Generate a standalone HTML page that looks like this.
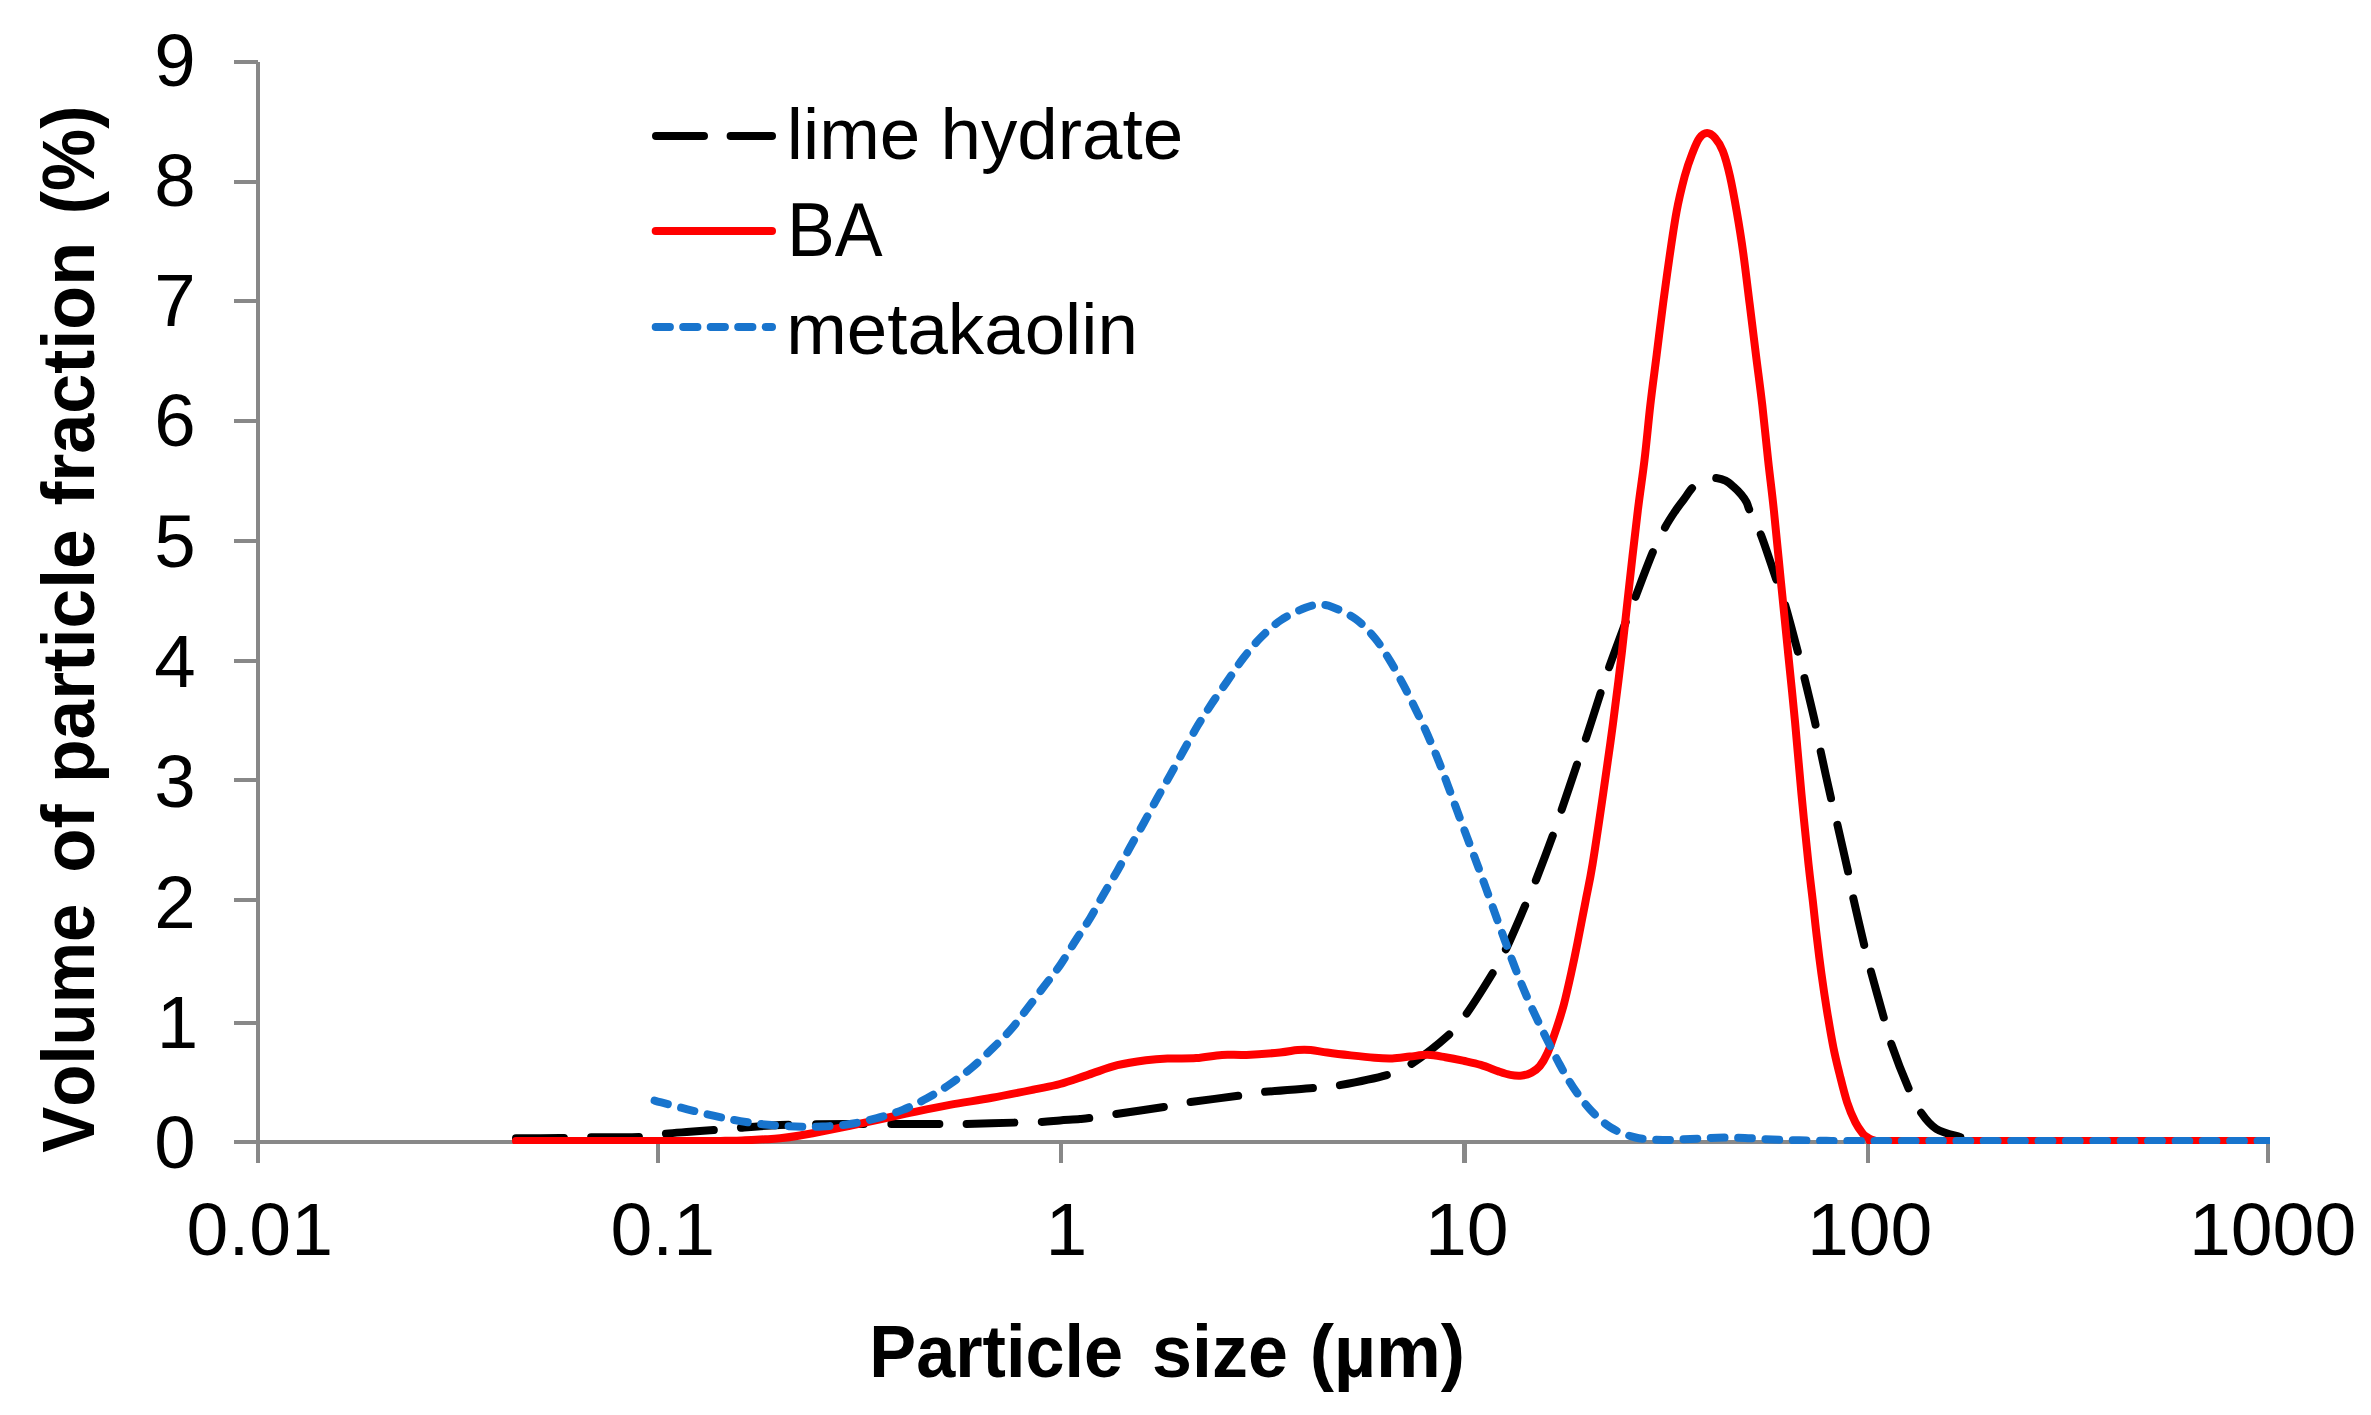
<!DOCTYPE html>
<html lang="en"><head><meta charset="utf-8"><title>Particle size distribution</title>
<style>html,body{margin:0;padding:0;background:#fff;width:2371px;height:1415px;overflow:hidden;}svg{display:block;}text{font-family:"Liberation Sans",sans-serif;fill:#000;font-kerning:none;white-space:pre;}.b{font-weight:bold;}</style></head><body>
<svg width="2371" height="1415" viewBox="0 0 2371 1415">
<rect width="2371" height="1415" fill="#fff"/>
<defs><clipPath id="plot"><rect x="240" y="40" width="2030" height="1104"/></clipPath></defs>
<g fill="#888888" shape-rendering="crispEdges">
<rect x="256" y="62" width="4" height="1101"/>
<rect x="256" y="1140" width="2014" height="4"/>
<rect x="234" y="60.0" width="24" height="4"/>
<rect x="234" y="180.0" width="24" height="4"/>
<rect x="234" y="299.0" width="24" height="4"/>
<rect x="234" y="419.0" width="24" height="4"/>
<rect x="234" y="539.0" width="24" height="4"/>
<rect x="234" y="658.5" width="24" height="4"/>
<rect x="234" y="778.0" width="24" height="4"/>
<rect x="234" y="897.5" width="24" height="4"/>
<rect x="234" y="1020.5" width="24" height="4"/>
<rect x="234" y="1140.0" width="24" height="4"/>
<rect x="656.0" y="1142" width="4" height="21"/>
<rect x="1059.0" y="1142" width="4" height="21"/>
<rect x="1462.0" y="1142" width="5" height="21"/>
<rect x="1866.0" y="1142" width="4" height="21"/>
<rect x="2266.0" y="1142" width="4" height="21"/>
</g>
<g clip-path="url(#plot)" fill="none" stroke-width="8" stroke-linecap="round" stroke-linejoin="round">
<path d="M516.0 1138.3C523.3 1138.2 547.7 1138.2 560.0 1138.0C572.3 1137.8 576.7 1137.4 590.0 1137.2C603.3 1137.0 628.0 1137.5 640.0 1137.0C652.0 1136.5 653.7 1134.9 662.0 1134.0C670.3 1133.1 680.7 1132.5 690.0 1131.8C699.3 1131.1 710.2 1130.2 718.0 1129.6C725.8 1129.0 726.7 1128.8 737.0 1128.0C747.3 1127.2 761.2 1125.8 780.0 1125.1C798.8 1124.4 822.9 1124.2 850.0 1124.0C877.1 1123.8 923.2 1124.0 942.6 1124.0C962.0 1124.0 954.5 1124.2 966.6 1124.0C978.7 1123.8 1002.9 1122.9 1015.4 1122.6C1027.9 1122.2 1034.2 1122.3 1041.6 1121.9C1049.0 1121.5 1053.6 1120.9 1060.0 1120.4C1066.4 1119.9 1074.6 1119.5 1080.0 1119.0C1085.4 1118.5 1086.7 1118.4 1092.3 1117.6C1097.9 1116.8 1101.3 1116.3 1113.8 1114.4C1126.3 1112.5 1155.0 1108.4 1167.3 1106.4C1179.6 1104.4 1175.2 1104.3 1187.6 1102.5C1199.9 1100.7 1228.9 1097.1 1241.4 1095.4C1253.9 1093.7 1250.2 1093.4 1262.6 1092.1C1275.0 1090.8 1303.6 1088.9 1316.0 1087.8C1328.4 1086.7 1325.0 1087.9 1337.0 1085.7C1349.0 1083.5 1375.6 1078.3 1388.0 1074.7C1400.4 1071.1 1401.0 1070.8 1411.2 1064.1C1421.5 1057.3 1440.3 1042.5 1449.5 1034.2C1458.7 1025.9 1459.2 1024.3 1466.4 1014.0C1473.7 1003.7 1486.4 983.4 1493.0 972.6C1499.6 961.8 1500.5 960.5 1505.9 949.3C1511.3 938.1 1520.2 917.0 1525.2 905.5C1530.2 894.0 1531.4 891.8 1536.0 880.0C1540.6 868.2 1548.7 846.8 1553.0 835.0C1557.3 823.2 1557.8 821.1 1561.8 809.3C1565.8 797.5 1573.0 776.2 1577.0 764.4C1581.0 752.6 1582.0 750.5 1585.9 738.6C1589.9 726.7 1596.8 704.8 1600.7 692.7C1604.6 680.6 1605.4 677.7 1609.5 666.1C1613.6 654.5 1621.0 634.8 1625.4 623.0C1629.8 611.2 1631.5 607.3 1636.0 595.5C1640.5 583.7 1647.9 563.7 1652.7 552.4C1657.5 541.1 1661.3 534.3 1665.0 527.5C1668.7 520.7 1671.9 516.0 1675.0 511.4C1678.1 506.8 1680.6 503.8 1683.5 499.8C1686.4 495.9 1689.6 490.8 1692.5 487.7C1695.4 484.6 1698.4 482.6 1701.0 481.0C1703.6 479.4 1705.5 478.7 1708.0 478.2C1710.5 477.7 1712.9 477.6 1715.8 478.0C1718.7 478.4 1722.6 479.3 1725.5 480.7C1728.4 482.1 1730.7 484.2 1733.3 486.5C1735.9 488.8 1738.9 491.7 1741.1 494.3C1743.3 496.9 1745.1 499.4 1746.5 502.1C1747.9 504.8 1747.2 504.8 1749.6 510.3C1752.0 515.8 1756.5 523.5 1761.0 535.0C1765.5 546.5 1772.2 567.8 1776.3 579.6C1780.4 591.5 1781.9 594.0 1785.5 606.1C1789.1 618.2 1794.7 639.9 1797.9 652.0C1801.1 664.1 1801.7 666.4 1804.6 678.5C1807.5 690.6 1812.8 712.2 1815.5 724.5C1818.2 736.8 1818.2 739.6 1820.8 752.0C1823.4 764.4 1828.3 786.5 1831.1 798.7C1833.9 810.9 1834.7 813.0 1837.5 825.2C1840.3 837.4 1845.4 859.5 1848.1 871.8C1850.8 884.0 1850.7 886.5 1853.4 898.7C1856.1 910.9 1861.3 932.8 1864.2 945.0C1867.1 957.2 1867.7 959.6 1871.0 971.7C1874.3 983.8 1880.4 1005.6 1883.8 1017.6C1887.2 1029.6 1887.1 1031.9 1891.2 1043.7C1895.3 1055.5 1903.6 1076.9 1908.6 1088.4C1913.6 1099.9 1916.6 1106.1 1921.2 1112.8C1925.8 1119.5 1929.7 1124.8 1936.2 1128.8C1942.7 1132.8 1954.0 1135.2 1960.0 1137.0C1966.0 1138.8 1967.8 1139.0 1972.0 1139.8C1976.2 1140.5 1980.3 1141.1 1985.0 1141.5C1989.7 1141.9 1949.2 1141.9 2000.0 1142.0C2050.8 1142.1 2241.7 1142.0 2290.0 1142.0" stroke="#000" stroke-dasharray="47.7 27.5"/>
<path d="M516.0 1141.0C530.0 1141.0 569.3 1141.0 600.0 1141.0C630.7 1141.0 679.2 1141.0 700.0 1141.0C720.8 1141.0 717.5 1140.9 725.0 1140.8C732.5 1140.7 738.3 1140.5 745.0 1140.3C751.7 1140.0 759.2 1139.6 765.0 1139.3C770.8 1139.0 774.2 1138.9 780.0 1138.3C785.8 1137.7 792.9 1136.7 800.0 1135.5C807.1 1134.3 811.6 1133.6 822.4 1131.4C833.2 1129.2 850.7 1125.6 864.8 1122.6C878.9 1119.6 893.1 1116.4 907.2 1113.4C921.4 1110.5 935.6 1107.5 949.7 1104.9C963.8 1102.3 977.9 1100.4 992.0 1097.8C1006.1 1095.2 1023.2 1091.7 1034.5 1089.4C1045.8 1087.1 1051.0 1086.5 1060.0 1084.0C1069.0 1081.5 1079.1 1077.7 1088.7 1074.6C1098.3 1071.5 1107.9 1067.6 1117.4 1065.2C1127.0 1062.8 1137.7 1061.3 1146.0 1060.2C1154.3 1059.1 1159.1 1058.8 1167.5 1058.5C1175.9 1058.2 1187.1 1058.7 1196.2 1058.1C1205.3 1057.5 1213.6 1055.4 1222.0 1054.9C1230.4 1054.4 1236.7 1055.3 1246.4 1054.9C1256.1 1054.5 1271.5 1053.3 1280.0 1052.5C1288.5 1051.7 1292.6 1050.5 1297.7 1050.1C1302.8 1049.7 1305.8 1049.7 1310.7 1050.1C1315.6 1050.5 1320.5 1051.6 1327.2 1052.5C1333.9 1053.4 1343.0 1054.5 1350.9 1055.4C1358.8 1056.3 1367.6 1057.3 1374.5 1057.8C1381.4 1058.3 1386.3 1058.6 1392.2 1058.4C1398.1 1058.2 1404.0 1057.2 1409.9 1056.6C1415.8 1056.0 1421.7 1054.7 1427.6 1054.8C1433.5 1054.9 1439.4 1056.2 1445.3 1057.2C1451.2 1058.2 1457.1 1059.4 1463.0 1060.7C1468.9 1062.0 1474.9 1063.1 1480.8 1064.9C1486.7 1066.7 1493.6 1069.7 1498.5 1071.4C1503.4 1073.1 1506.4 1074.2 1510.3 1074.9C1514.2 1075.6 1518.6 1075.9 1522.1 1075.5C1525.6 1075.1 1528.5 1074.2 1531.5 1072.6C1534.5 1071.0 1537.1 1069.4 1539.8 1066.1C1542.5 1062.8 1544.7 1059.2 1547.5 1053.0C1550.3 1046.8 1553.7 1036.7 1556.4 1028.7C1559.1 1020.7 1561.3 1014.0 1563.8 1004.8C1566.2 995.6 1568.8 983.9 1571.1 973.5C1573.4 963.1 1575.8 951.5 1577.6 942.3C1579.4 933.1 1580.8 925.4 1582.2 918.4C1583.6 911.4 1584.1 909.1 1585.8 900.0C1587.5 890.9 1589.7 881.8 1592.6 864.0C1595.5 846.2 1599.8 816.9 1603.2 793.4C1606.6 769.9 1610.0 746.3 1613.1 722.7C1616.2 699.1 1619.1 675.6 1621.9 652.0C1624.7 628.4 1627.1 604.8 1629.7 581.3C1632.3 557.8 1635.3 530.9 1637.8 510.7C1640.3 490.5 1642.4 477.6 1644.5 460.0C1646.6 442.4 1648.3 422.9 1650.3 405.3C1652.3 387.7 1654.6 371.4 1656.7 354.5C1658.8 337.6 1661.0 319.7 1663.1 303.6C1665.2 287.5 1667.2 273.1 1669.4 257.8C1671.6 242.5 1674.0 225.6 1676.5 212.0C1679.0 198.4 1682.1 186.1 1684.7 176.3C1687.3 166.5 1689.8 159.8 1692.3 153.4C1694.8 147.1 1696.9 141.6 1699.4 138.2C1701.9 134.8 1704.5 133.1 1707.1 133.1C1709.7 133.1 1712.6 135.2 1715.2 138.2C1717.8 141.2 1720.3 144.6 1722.8 150.9C1725.3 157.2 1727.7 166.1 1730.0 176.3C1732.3 186.5 1734.6 199.3 1736.8 212.0C1739.0 224.7 1741.1 237.4 1743.2 252.7C1745.3 268.0 1747.5 286.6 1749.6 303.6C1751.7 320.6 1753.8 337.6 1755.9 354.5C1758.0 371.4 1760.3 387.7 1762.3 405.3C1764.3 422.9 1766.2 442.4 1768.1 460.0C1770.0 477.6 1771.8 490.5 1773.9 510.7C1776.0 530.9 1778.6 557.8 1780.9 581.3C1783.2 604.8 1785.6 628.4 1788.0 652.0C1790.4 675.6 1792.9 699.1 1795.1 722.7C1797.3 746.3 1799.2 769.9 1801.4 793.4C1803.6 816.9 1806.6 846.2 1808.5 864.0C1810.4 881.8 1811.3 887.9 1812.7 900.0C1814.1 912.1 1815.3 924.5 1816.8 936.8C1818.2 949.0 1819.7 961.2 1821.4 973.5C1823.1 985.8 1824.9 998.0 1826.9 1010.3C1828.9 1022.5 1831.2 1036.3 1833.3 1047.0C1835.4 1057.7 1837.4 1065.4 1839.7 1074.6C1842.0 1083.8 1844.5 1094.2 1847.1 1102.2C1849.7 1110.2 1852.8 1117.2 1855.4 1122.4C1858.0 1127.6 1860.8 1131.0 1862.7 1133.4C1864.6 1135.8 1865.6 1136.0 1867.0 1137.0C1868.4 1138.0 1869.7 1138.8 1871.0 1139.4C1872.3 1140.0 1873.5 1140.4 1875.0 1140.7C1876.5 1141.0 1859.2 1141.0 1880.0 1141.0C1900.8 1141.0 1931.7 1141.0 2000.0 1141.0C2068.3 1141.0 2241.7 1141.0 2290.0 1141.0" stroke="#ff0000"/>
<path d="M654.6 1100.6C655.7 1100.9 655.8 1101.0 661.3 1102.4C666.8 1103.9 678.4 1107.0 687.3 1109.3C696.2 1111.5 705.6 1113.9 714.5 1115.9C723.4 1117.9 731.5 1119.6 740.4 1121.1C749.3 1122.6 758.8 1123.9 768.0 1124.8C777.2 1125.7 786.5 1126.2 795.6 1126.5C804.7 1126.8 813.3 1126.9 822.4 1126.5C831.5 1126.1 840.9 1125.4 850.0 1124.0C859.1 1122.6 868.0 1120.4 876.8 1118.1C885.6 1115.8 894.3 1113.2 902.7 1109.9C911.1 1106.6 919.0 1102.7 927.0 1098.3C935.0 1093.9 943.1 1088.8 950.6 1083.7C958.1 1078.6 965.0 1073.4 972.0 1067.5C979.0 1061.6 985.9 1054.8 992.5 1048.4C999.1 1042.0 1005.5 1035.7 1011.4 1028.9C1017.3 1022.1 1022.5 1014.6 1028.1 1007.4C1033.7 1000.1 1039.4 992.5 1044.8 985.4C1050.2 978.3 1055.3 972.2 1060.4 964.7C1065.5 957.2 1070.6 948.3 1075.6 940.5C1080.6 932.7 1085.7 925.5 1090.4 917.7C1095.1 909.9 1099.2 901.8 1103.8 893.9C1108.3 886.0 1113.2 878.1 1117.7 870.2C1122.2 862.3 1126.1 854.4 1130.5 846.5C1134.9 838.6 1139.5 830.8 1143.9 822.7C1148.4 814.6 1152.8 806.2 1157.2 798.1C1161.7 790.0 1166.1 782.4 1170.6 774.4C1175.0 766.4 1179.5 758.0 1183.9 750.0C1188.4 742.0 1192.7 734.0 1197.3 726.3C1201.9 718.6 1206.5 711.6 1211.5 704.0C1216.5 696.4 1222.2 688.5 1227.5 680.9C1232.8 673.3 1237.7 665.4 1243.2 658.3C1248.7 651.1 1254.0 644.4 1260.3 638.0C1266.6 631.6 1273.6 625.0 1281.1 620.0C1288.6 615.0 1299.2 610.3 1305.4 607.8C1311.7 605.3 1314.1 604.9 1318.6 604.8C1323.0 604.6 1325.9 604.5 1332.1 606.9C1338.3 609.3 1348.5 613.8 1355.7 619.0C1362.9 624.2 1369.2 631.1 1375.0 638.2C1380.8 645.3 1385.6 653.5 1390.4 661.4C1395.2 669.3 1399.6 677.7 1403.8 685.7C1408.0 693.7 1411.8 701.3 1415.7 709.5C1419.7 717.7 1423.8 726.3 1427.5 734.7C1431.2 743.1 1434.8 751.5 1438.2 759.9C1441.6 768.3 1444.5 776.6 1447.7 785.1C1450.9 793.6 1454.0 802.2 1457.2 810.9C1460.4 819.6 1463.8 828.5 1467.0 837.1C1470.2 845.7 1473.4 853.9 1476.5 862.3C1479.6 870.7 1482.6 879.0 1485.7 887.5C1488.8 896.0 1491.9 904.7 1495.0 913.4C1498.1 922.1 1501.3 930.9 1504.5 939.5C1507.7 948.1 1510.8 956.6 1514.0 965.0C1517.2 973.4 1520.5 981.6 1524.0 990.0C1527.5 998.4 1531.4 1007.1 1535.3 1015.4C1539.2 1023.7 1543.1 1031.8 1547.2 1040.0C1551.3 1048.2 1555.4 1056.6 1559.7 1064.5C1564.0 1072.4 1568.2 1080.0 1573.3 1087.5C1578.4 1095.0 1583.9 1102.8 1590.1 1109.5C1596.3 1116.2 1603.1 1122.8 1610.7 1127.5C1618.3 1132.2 1626.8 1135.4 1635.5 1137.5C1644.2 1139.6 1653.8 1139.7 1663.0 1139.9C1672.2 1140.2 1681.4 1139.4 1690.5 1139.0C1699.6 1138.6 1708.3 1137.9 1717.4 1137.7C1726.5 1137.5 1735.8 1137.7 1744.9 1138.0C1754.1 1138.3 1763.2 1139.1 1772.3 1139.5C1781.4 1139.9 1790.3 1140.1 1799.3 1140.3C1808.3 1140.5 1817.4 1140.7 1826.5 1140.8C1835.6 1140.9 1824.8 1141.0 1853.7 1141.0C1882.6 1141.0 1927.3 1141.0 2000.0 1141.0C2072.7 1141.0 2241.7 1141.0 2290.0 1141.0" stroke="#1874CD" stroke-dasharray="13.76 13.57"/>
</g>
<text x="154.3" y="86.4" font-size="74.5">9</text>
<text x="154.3" y="206.0" font-size="74.5">8</text>
<text x="154.3" y="325.7" font-size="74.5">7</text>
<text x="154.3" y="446.0" font-size="74.5">6</text>
<text x="154.3" y="567.2" font-size="74.5">5</text>
<text x="154.3" y="686.7" font-size="74.5">4</text>
<text x="154.3" y="807.2" font-size="74.5">3</text>
<text x="154.3" y="927.8" font-size="74.5">2</text>
<text x="156.8" y="1047.9" font-size="74.5">1</text>
<text x="154.3" y="1167.8" font-size="74.5">0</text>
<text x="186.6" y="1255.1" font-size="74.5" textLength="146.4" lengthAdjust="spacingAndGlyphs">0.01</text>
<text x="610.5" y="1255.1" font-size="74.5" textLength="104.6" lengthAdjust="spacingAndGlyphs">0.1</text>
<text x="1045.4" y="1255.1" font-size="74.5" textLength="41.8" lengthAdjust="spacingAndGlyphs">1</text>
<text x="1424.9" y="1255.1" font-size="74.5" textLength="83.7" lengthAdjust="spacingAndGlyphs">10</text>
<text x="1806.9" y="1255.1" font-size="74.5" textLength="125.5" lengthAdjust="spacingAndGlyphs">100</text>
<text x="2188.9" y="1255.1" font-size="74.5" textLength="167.4" lengthAdjust="spacingAndGlyphs">1000</text>
<g fill="none" stroke-width="8" stroke-linecap="round">
<path d="M656 136H772" stroke="#000" stroke-dasharray="48 26.6"/>
<path d="M655.7 231H772" stroke="#ff0000"/>
<path d="M655.7 327H772" stroke="#1874CD" stroke-dasharray="14.2 13.3"/>
</g>
<text x="786.8" y="158.8" font-size="73.0" textLength="396.4" lengthAdjust="spacingAndGlyphs">lime hydrate</text>
<text x="786.9" y="255.9" font-size="75.8" textLength="95.7" lengthAdjust="spacingAndGlyphs">BA</text>
<text x="786.2" y="353.9" font-size="73.0" textLength="351.7" lengthAdjust="spacingAndGlyphs">metakaolin</text>
<text class="b" font-size="74.6" y="1376.6"><tspan x="869.3" textLength="253.7" lengthAdjust="spacingAndGlyphs">Particle</tspan><tspan> </tspan><tspan x="1152.1" textLength="135.8" lengthAdjust="spacingAndGlyphs">size</tspan><tspan> </tspan><tspan x="1309.7" textLength="155.4" lengthAdjust="spacingAndGlyphs">(µm)</tspan></text>
<text class="b" font-size="74.6" transform="translate(94.1 1200.0) rotate(-90)" y="0"><tspan x="47.3" textLength="249.1" lengthAdjust="spacingAndGlyphs">Volume</tspan><tspan> </tspan><tspan x="327.2" textLength="68.4" lengthAdjust="spacingAndGlyphs">of</tspan><tspan> </tspan><tspan x="417.0" textLength="253.8" lengthAdjust="spacingAndGlyphs">particle</tspan><tspan> </tspan><tspan x="694.4" textLength="263.7" lengthAdjust="spacingAndGlyphs">fraction</tspan><tspan> </tspan><tspan x="985.8" textLength="108.8" lengthAdjust="spacingAndGlyphs">(%)</tspan></text>
</svg></body></html>
